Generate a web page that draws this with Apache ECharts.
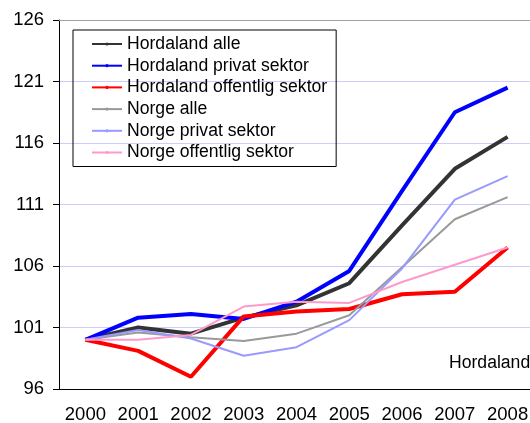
<!DOCTYPE html>
<html>
<head>
<meta charset="utf-8">
<script src="https://cdn.jsdelivr.net/npm/echarts@6/dist/echarts.min.js"></script>
<style>html,body{margin:0;padding:0;background:#fff}#c{width:530px;height:423px}</style>
</head>
<body>
<div id="c"></div>
<script>
const years = ['2000','2001','2002','2003','2004','2005','2006','2007','2008'];
const hordalandAlle      = [100, 101.0, 100.5, 101.8, 102.8, 104.6, 109.3, 113.9, 116.5];
const hordalandPrivat    = [100, 101.8, 102.1, 101.7, 103.1, 105.6, 112.1, 118.5, 120.5];
const hordalandOffentlig = [100, 99.1, 97.0, 101.9, 102.3, 102.5, 103.7, 103.9, 107.5];
const norgeAlle          = [100, 100.6, 100.2, 99.9, 100.5, 102.0, 105.9, 109.8, 111.6];
const norgePrivat        = [100, 100.8, 100.1, 98.7, 99.4, 101.6, 105.8, 111.4, 113.3];
const norgeOffentlig     = [100, 100.0, 100.4, 102.7, 103.1, 103.0, 104.7, 106.1, 107.5];
const seriesNames = ['Hordaland alle','Hordaland privat sektor','Hordaland offentlig sektor','Norge alle','Norge privat sektor','Norge offentlig sektor'];
const seriesData = [hordalandAlle, hordalandPrivat, hordalandOffentlig, norgeAlle, norgePrivat, norgeOffentlig];
const colors = ['#333333','#0000ff','#ff0000','#999999','#9999ff','#ff99cc'];
const widths = [4,4,4,2,2,2];
const font = 'Liberation Sans, Arial, sans-serif';

const chart = echarts.init(document.getElementById('c'));
chart.setOption({
  animation: false,
  backgroundColor: '#fff',
  grid: {left: 59, top: 20, right: -4, bottom: 34, containLabel: false, outerBoundsMode: 'none'},
  legend: {
    orient: 'vertical', left: 73, top: 30,
    borderColor: '#000', borderWidth: 1,
    padding: [4, 9, 4, 18],
    itemWidth: 30, itemHeight: 4, itemGap: 1.7,
    textStyle: {fontFamily: font, fontSize: 17.6, color: '#000', lineHeight: 20},
    data: seriesNames
  },
  xAxis: [{
    type: 'category', data: years, position: 'bottom',
    axisLine: {lineStyle: {color: '#000', width: 1}},
    axisTick: {length: 6, lineStyle: {color: '#000'}},
    axisLabel: {fontFamily: font, fontSize: 18.5, color: '#000', margin: 16, interval: 0},
    splitLine: {show: false}
  }, {
    type: 'category', data: years, position: 'top',
    axisLine: {lineStyle: {color: '#a0a0a0', width: 1}},
    axisTick: {show: false}, axisLabel: {show: false}
  }],
  yAxis: {
    type: 'value', min: 96, max: 126, interval: 5,
    axisLine: {show: true, lineStyle: {color: '#000'}},
    axisTick: {show: true, length: 6, lineStyle: {color: '#000'}},
    axisLabel: {fontFamily: font, fontSize: 18.5, color: '#000', margin: 15},
    splitLine: {lineStyle: {color: '#ccccff', width: 1}}
  },
  graphic: [{
    type: 'text', left: 449, top: 354,
    style: {text: 'Hordaland', font: '17.6px ' + font, fill: '#000'}
  }],
  series: seriesNames.map((n, i) => ({
    name: n, type: 'line', data: seriesData[i],
    symbol: 'none', color: colors[i],
    lineStyle: {color: colors[i], width: widths[i]}
  }))
});
</script>
</body>
</html>
